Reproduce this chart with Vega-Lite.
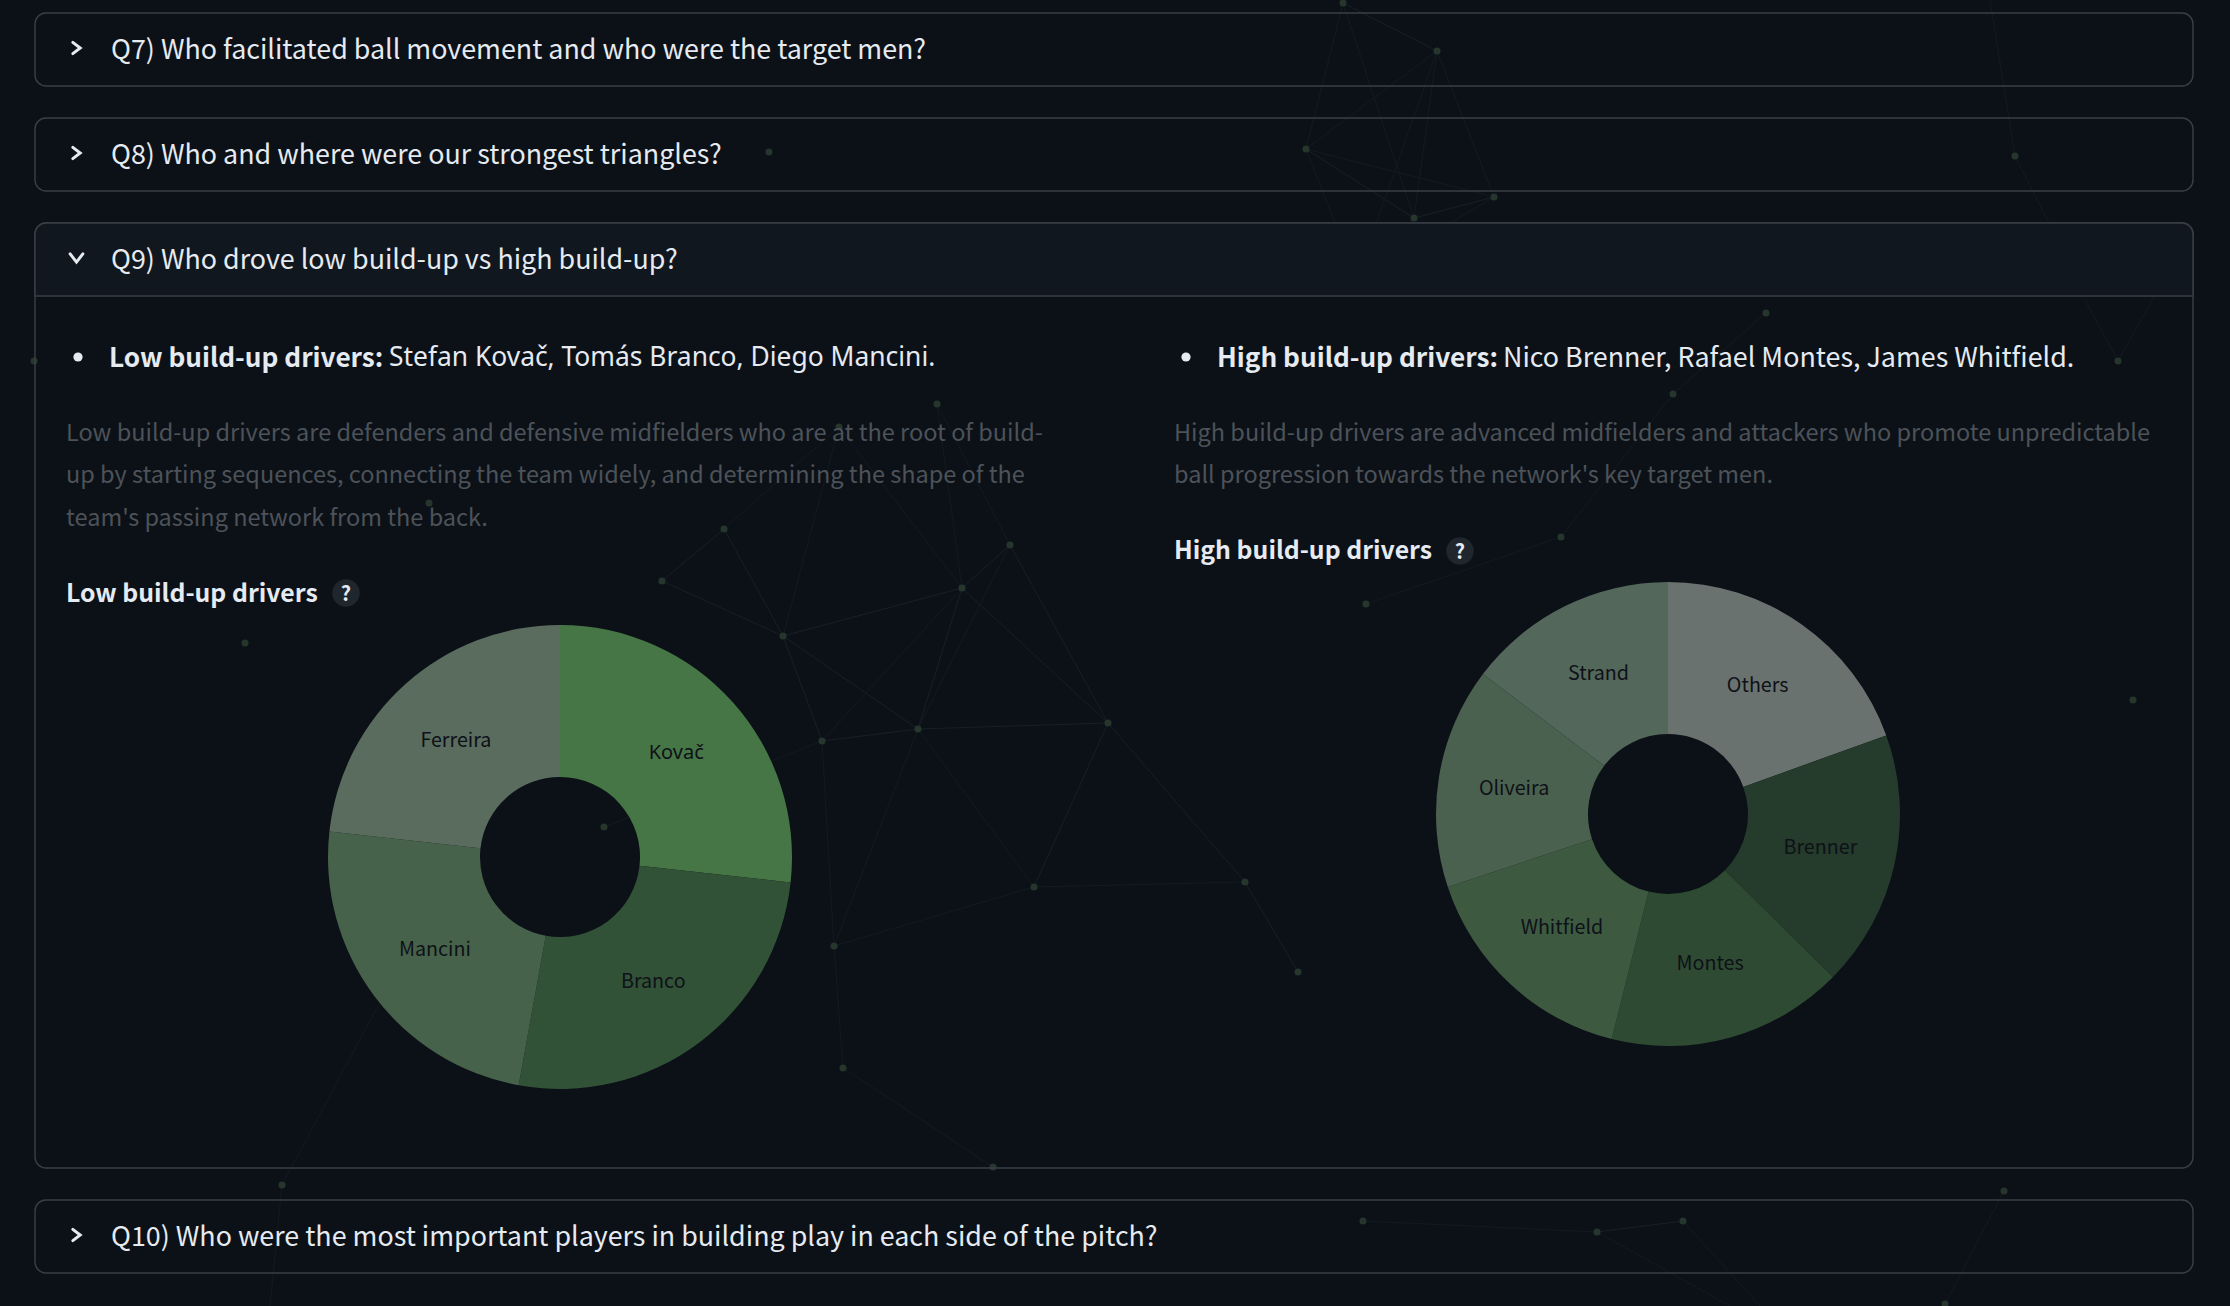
{
  "$schema": "https://vega.github.io/schema/vega-lite/v6.json",
  "width": 2230,
  "height": 1306,
  "padding": 0,
  "autosize": {"type": "none"},
  "background": "#0b1117",
  "config": {"view": {"stroke": null}, "text": {"font": "Noto Sans CJK SC"}, "scale": {"pointPadding": 0}},
  "datasets": {
    "edges": [
      {"x":1343,"y":3,"x2":1437,"y2":51,"w":"strong"},{"x":1343,"y":3,"x2":1306,"y2":149,"w":"weak"},{"x":1343,"y":3,"x2":1414,"y2":218,"w":"weak"},
      {"x":1437,"y":51,"x2":1306,"y2":149,"w":"weak"},{"x":1306,"y":149,"x2":1494,"y2":197,"w":"weak"},{"x":1306,"y":149,"x2":1414,"y2":218,"w":"strong"},
      {"x":1306,"y":149,"x2":1357,"y2":278,"w":"weak"},{"x":1437,"y":51,"x2":1494,"y2":197,"w":"weak"},{"x":1437,"y":51,"x2":1414,"y2":218,"w":"weak"},
      {"x":1494,"y":197,"x2":1414,"y2":218,"w":"strong"},{"x":1414,"y":218,"x2":1357,"y2":278,"w":"weak"},{"x":1494,"y":197,"x2":1357,"y2":278,"w":"weak"},
      {"x":1437,"y":51,"x2":1357,"y2":278,"w":"weak"},
      {"x":662,"y":581,"x2":724,"y2":529,"w":"strong"},{"x":724,"y":529,"x2":783,"y2":636,"w":"strong"},{"x":662,"y":581,"x2":783,"y2":636,"w":"strong"},
      {"x":783,"y":636,"x2":962,"y2":588,"w":"strong"},{"x":783,"y":636,"x2":918,"y2":729,"w":"strong"},{"x":783,"y":636,"x2":822,"y2":741,"w":"strong"},
      {"x":822,"y":741,"x2":918,"y2":729,"w":"strong"},{"x":918,"y":729,"x2":1108,"y2":723,"w":"strong"},{"x":918,"y":729,"x2":962,"y2":588,"w":"strong"},
      {"x":962,"y":588,"x2":1010,"y2":545,"w":"strong"},{"x":962,"y":588,"x2":1108,"y2":723,"w":"strong"},{"x":1010,"y":545,"x2":1108,"y2":723,"w":"strong"},
      {"x":1108,"y":723,"x2":1034,"y2":887,"w":"strong"},{"x":1108,"y":723,"x2":1245,"y2":882,"w":"strong"},{"x":918,"y":729,"x2":1034,"y2":887,"w":"weak"},
      {"x":1034,"y":887,"x2":1245,"y2":882,"w":"weak"},{"x":1245,"y":882,"x2":1298,"y2":972,"w":"strong"},{"x":1034,"y":887,"x2":834,"y2":946,"w":"weak"},
      {"x":918,"y":729,"x2":834,"y2":946,"w":"weak"},{"x":822,"y":741,"x2":834,"y2":946,"w":"weak"},{"x":834,"y":946,"x2":843,"y2":1068,"w":"weak"},
      {"x":822,"y":741,"x2":962,"y2":588,"w":"weak"},{"x":918,"y":729,"x2":1010,"y2":545,"w":"weak"},{"x":724,"y":529,"x2":839,"y2":427,"w":"weak"},
      {"x":783,"y":636,"x2":839,"y2":427,"w":"weak"},{"x":962,"y":588,"x2":839,"y2":427,"w":"weak"},{"x":962,"y":588,"x2":937,"y2":404,"w":"weak"},
      {"x":1010,"y":545,"x2":937,"y2":404,"w":"weak"},{"x":604,"y":827,"x2":822,"y2":741,"w":"weak"},{"x":843,"y":1068,"x2":993,"y2":1167,"w":"weak"},
      {"x":388,"y":987,"x2":282,"y2":1185,"w":"weak"},{"x":282,"y":1185,"x2":270,"y2":1306,"w":"weak"},
      {"x":1766,"y":313,"x2":1673,"y2":394,"w":"weak"},{"x":1673,"y":394,"x2":1561,"y2":537,"w":"weak"},{"x":1561,"y":537,"x2":1366,"y2":604,"w":"weak"},
      {"x":2015,"y":156,"x2":2068,"y2":261,"w":"weak"},{"x":2015,"y":156,"x2":1990,"y2":0,"w":"weak"},{"x":2118,"y":361,"x2":2180,"y2":250,"w":"weak"},{"x":2118,"y":361,"x2":2085,"y2":300,"w":"weak"},
      {"x":1363,"y":1221,"x2":1597,"y2":1232,"w":"weak"},{"x":1597,"y":1232,"x2":1683,"y2":1221,"w":"strong"},{"x":1683,"y":1221,"x2":1760,"y2":1306,"w":"weak"},
      {"x":1597,"y":1232,"x2":1730,"y2":1306,"w":"weak"},{"x":2004,"y":1191,"x2":1945,"y2":1304,"w":"weak"}
    ],
    "nodes": [
      {"x":1343,"y":3},{"x":1437,"y":51},{"x":1306,"y":149},{"x":1494,"y":197},{"x":1414,"y":218},{"x":1357,"y":278},
      {"x":724,"y":529},{"x":662,"y":581},{"x":1010,"y":545},{"x":962,"y":588},{"x":783,"y":636},{"x":822,"y":741},{"x":918,"y":729},{"x":1108,"y":723},
      {"x":1034,"y":887},{"x":1245,"y":882},{"x":1298,"y":972},{"x":834,"y":946},{"x":843,"y":1068},{"x":1366,"y":604},{"x":604,"y":827},{"x":388,"y":987},
      {"x":325,"y":278},{"x":34,"y":361},{"x":937,"y":404},{"x":429,"y":503},{"x":839,"y":427},{"x":245,"y":643},{"x":2015,"y":156},{"x":1766,"y":313},
      {"x":2118,"y":361},{"x":1673,"y":394},{"x":1561,"y":537},{"x":769,"y":152},{"x":2133,"y":700},{"x":993,"y":1167},{"x":282,"y":1185},{"x":1363,"y":1221},
      {"x":1597,"y":1232},{"x":1683,"y":1221},{"x":2004,"y":1191},{"x":1945,"y":1304}
    ],
    "panels": [
      {"panel":"Q7","span":"all","label":"Q7) Who facilitated ball movement and who were the target men?"},
      {"panel":"Q8","span":"all","label":"Q8) Who and where were our strongest triangles?"},
      {"panel":"Q9","span":"all","label":"Q9) Who drove low build-up vs high build-up?"},
      {"panel":"Q10","span":"all","label":"Q10) Who were the most important players in building play in each side of the pitch?"}
    ],
    "bullets": [
      {"side":"Low","lead":"Low build-up drivers:","names":"Stefan Kovač, Tomás Branco, Diego Mancini."},
      {"side":"High","lead":"High build-up drivers:","names":"Nico Brenner, Rafael Montes, James Whitfield."}
    ],
    "notes": [
      {"side":"Low","line":1,"text":"Low build-up drivers are defenders and defensive midfielders who are at the root of build-"},
      {"side":"Low","line":2,"text":"up by starting sequences, connecting the team widely, and determining the shape of the"},
      {"side":"Low","line":3,"text":"team's passing network from the back."},
      {"side":"High","line":1,"text":"High build-up drivers are advanced midfielders and attackers who promote unpredictable"},
      {"side":"High","line":2,"text":"ball progression towards the network's key target men."}
    ],
    "headings": [
      {"side":"Low","title":"Low build-up drivers","help":"?"},
      {"side":"High","title":"High build-up drivers","help":"?"}
    ],
    "low": [
      {"side":"Low","player":"Kovač","share":26.75,"rank":1},
      {"side":"Low","player":"Branco","share":26.1,"rank":2},
      {"side":"Low","player":"Mancini","share":23.9,"rank":3},
      {"side":"Low","player":"Ferreira","share":23.25,"rank":4}
    ],
    "high": [
      {"side":"High","player":"Others","share":19.5,"rank":1},
      {"side":"High","player":"Brenner","share":17.9,"rank":2},
      {"side":"High","player":"Montes","share":16.5,"rank":3},
      {"side":"High","player":"Whitfield","share":16.0,"rank":4},
      {"side":"High","player":"Oliveira","share":15.4,"rank":5},
      {"side":"High","player":"Strand","share":14.7,"rank":6}
    ]
  },
  "resolve": {"scale": {"x": "independent", "y": "independent", "theta": "independent", "color": "independent"}},
  "layer": [
    {
      "data": {"name": "edges"},
      "mark": {"type": "rule", "strokeWidth": 1},
      "encoding": {
        "x": {"field": "x", "type": "quantitative", "axis": null, "scale": {"domain": [0, 2230], "range": [0, 2230], "nice": false, "zero": false}},
        "y": {"field": "y", "type": "quantitative", "axis": null, "scale": {"domain": [0, 1306], "range": [0, 1306], "nice": false, "zero": false}},
        "x2": {"field": "x2"},
        "y2": {"field": "y2"},
        "color": {"field": "w", "type": "nominal", "legend": null, "scale": {"domain": ["strong", "weak"], "range": ["#181f25", "#141a20"]}}
      }
    },
    {
      "data": {"name": "nodes"},
      "mark": {"type": "point", "shape": "circle", "filled": true, "size": 50, "color": "#26362c", "opacity": 1},
      "encoding": {
        "x": {"field": "x", "type": "quantitative", "axis": null, "scale": {"domain": [0, 2230], "range": [0, 2230], "nice": false, "zero": false}},
        "y": {"field": "y", "type": "quantitative", "axis": null, "scale": {"domain": [0, 1306], "range": [0, 1306], "nice": false, "zero": false}}
      }
    },
    {
      "data": {"name": "panels"},
      "transform": [{"filter": "datum.panel === 'Q9'"}],
      "mark": {"type": "rect", "fill": "transparent", "stroke": "#3a3f47", "strokeWidth": 1.4, "cornerRadius": 11},
      "encoding": {
        "x": {"field": "span", "type": "nominal", "axis": null, "scale": {"type": "band", "domain": ["all"], "range": [35, 2193], "paddingInner": 0, "paddingOuter": 0}},
        "y": {"field": "panel", "type": "nominal", "axis": null, "scale": {"type": "band", "domain": ["Q9"], "range": [223, 1168], "paddingInner": 0, "paddingOuter": 0}}
      }
    },
    {
      "data": {"name": "panels"},
      "transform": [{"filter": "datum.panel === 'Q9'"}],
      "mark": {"type": "rect", "fill": "#10171e", "stroke": "#3a3f47", "strokeWidth": 1.4, "cornerRadiusTopLeft": 11, "cornerRadiusTopRight": 11},
      "encoding": {
        "x": {"field": "span", "type": "nominal", "axis": null, "scale": {"type": "band", "domain": ["all"], "range": [35, 2193], "paddingInner": 0, "paddingOuter": 0}},
        "y": {"field": "panel", "type": "nominal", "axis": null, "scale": {"type": "band", "domain": ["Q9"], "range": [223, 296], "paddingInner": 0, "paddingOuter": 0}}
      }
    },
    {
      "data": {"name": "panels"},
      "transform": [{"filter": "datum.panel !== 'Q9' && datum.panel !== 'Q10'"}],
      "mark": {"type": "rect", "fill": "transparent", "stroke": "#3a3f47", "strokeWidth": 1.4, "cornerRadius": 11},
      "encoding": {
        "x": {"field": "span", "type": "nominal", "axis": null, "scale": {"type": "band", "domain": ["all"], "range": [35, 2193], "paddingInner": 0, "paddingOuter": 0}},
        "y": {"field": "panel", "type": "nominal", "axis": null, "scale": {"type": "band", "domain": ["Q7", "Q8"], "range": [13, 191], "paddingInner": 0.3048, "paddingOuter": 0}}
      }
    },
    {
      "data": {"name": "panels"},
      "transform": [{"filter": "datum.panel === 'Q10'"}],
      "mark": {"type": "rect", "fill": "transparent", "stroke": "#3a3f47", "strokeWidth": 1.4, "cornerRadius": 11},
      "encoding": {
        "x": {"field": "span", "type": "nominal", "axis": null, "scale": {"type": "band", "domain": ["all"], "range": [35, 2193], "paddingInner": 0, "paddingOuter": 0}},
        "y": {"field": "panel", "type": "nominal", "axis": null, "scale": {"type": "band", "domain": ["Q10"], "range": [1200, 1273], "paddingInner": 0, "paddingOuter": 0}}
      }
    },
    {
      "data": {"name": "panels"},
      "transform": [{"filter": "datum.panel !== 'Q10'"}],
      "mark": {"type": "text", "align": "left", "baseline": "middle", "fontSize": 26.85, "color": "#e6eaf1"},
      "encoding": {
        "x": {"field": "span", "type": "nominal", "axis": null, "scale": {"type": "point", "domain": ["all"], "range": [111, 111]}},
        "y": {"field": "panel", "type": "nominal", "axis": null, "scale": {"type": "point", "domain": ["Q7", "Q8", "Q9"], "range": [51, 261]}},
        "text": {"field": "label"}
      }
    },
    {
      "data": {"name": "panels"},
      "transform": [{"filter": "datum.panel === 'Q10'"}],
      "mark": {"type": "text", "align": "left", "baseline": "middle", "fontSize": 26.85, "color": "#e6eaf1"},
      "encoding": {
        "x": {"field": "span", "type": "nominal", "axis": null, "scale": {"type": "point", "domain": ["all"], "range": [111, 111]}},
        "y": {"field": "panel", "type": "nominal", "axis": null, "scale": {"type": "point", "domain": ["Q10"], "range": [1238, 1238]}},
        "text": {"field": "label"}
      }
    },
    {
      "data": {"name": "panels"},
      "transform": [{"filter": "datum.panel === 'Q7' || datum.panel === 'Q8'"}],
      "mark": {"type": "point", "shape": "M-0.33,-0.5L0.33,0L-0.33,0.5", "size": 500, "filled": false, "stroke": "#e6eaf1", "strokeWidth": 3, "strokeCap": "round", "opacity": 1},
      "encoding": {
        "x": {"field": "span", "type": "nominal", "axis": null, "scale": {"type": "point", "domain": ["all"], "range": [76.5, 76.5]}},
        "y": {"field": "panel", "type": "nominal", "axis": null, "scale": {"type": "point", "domain": ["Q7", "Q8"], "range": [48, 153]}}
      }
    },
    {
      "data": {"name": "panels"},
      "transform": [{"filter": "datum.panel === 'Q10'"}],
      "mark": {"type": "point", "shape": "M-0.33,-0.5L0.33,0L-0.33,0.5", "size": 500, "filled": false, "stroke": "#e6eaf1", "strokeWidth": 3, "strokeCap": "round", "opacity": 1},
      "encoding": {
        "x": {"field": "span", "type": "nominal", "axis": null, "scale": {"type": "point", "domain": ["all"], "range": [76.5, 76.5]}},
        "y": {"field": "panel", "type": "nominal", "axis": null, "scale": {"type": "point", "domain": ["Q10"], "range": [1235, 1235]}}
      }
    },
    {
      "data": {"name": "panels"},
      "transform": [{"filter": "datum.panel === 'Q9'"}],
      "mark": {"type": "point", "shape": "M-0.5,-0.32L0,0.32L0.5,-0.32", "size": 650, "filled": false, "stroke": "#e6eaf1", "strokeWidth": 3, "strokeCap": "round", "opacity": 1},
      "encoding": {
        "x": {"field": "span", "type": "nominal", "axis": null, "scale": {"type": "point", "domain": ["all"], "range": [76.5, 76.5]}},
        "y": {"field": "panel", "type": "nominal", "axis": null, "scale": {"type": "point", "domain": ["Q9"], "range": [258, 258]}}
      }
    },
    {
      "data": {"name": "bullets"},
      "mark": {"type": "point", "shape": "circle", "filled": true, "size": 85, "color": "#e6eaf1", "opacity": 1},
      "encoding": {
        "x": {"field": "side", "type": "nominal", "axis": null, "scale": {"type": "point", "domain": ["Low", "High"], "range": [78, 1186]}},
        "y": {"field": "side", "type": "nominal", "axis": null, "scale": {"type": "point", "domain": ["Low", "High"], "range": [357, 357]}}
      }
    },
    {
      "data": {"name": "bullets"},
      "mark": {"type": "text", "align": "left", "baseline": "middle", "fontSize": 26.2, "fontWeight": 700, "color": "#e6eaf1"},
      "encoding": {
        "x": {"field": "side", "type": "nominal", "axis": null, "scale": {"type": "point", "domain": ["Low", "High"], "range": [109, 1217]}},
        "y": {"field": "side", "type": "nominal", "axis": null, "scale": {"type": "point", "domain": ["Low", "High"], "range": [359, 359]}},
        "text": {"field": "lead"}
      }
    },
    {
      "data": {"name": "bullets"},
      "transform": [{"filter": "datum.side === 'High'"}],
      "mark": {"type": "text", "align": "left", "baseline": "middle", "fontSize": 26.85, "color": "#e6eaf1"},
      "encoding": {
        "x": {"field": "side", "type": "nominal", "axis": null, "scale": {"type": "point", "domain": ["High"], "range": [1503, 1503]}},
        "y": {"field": "side", "type": "nominal", "axis": null, "scale": {"type": "point", "domain": ["High"], "range": [359, 359]}},
        "text": {"field": "names"}
      }
    },
    {
      "data": {"name": "bullets"},
      "transform": [{"filter": "datum.side === 'Low'"}],
      "mark": {"type": "text", "align": "left", "baseline": "middle", "font": "Noto Sans", "fontSize": 26.4, "color": "#e6eaf1"},
      "encoding": {
        "x": {"field": "side", "type": "nominal", "axis": null, "scale": {"type": "point", "domain": ["Low"], "range": [389, 389]}},
        "y": {"field": "side", "type": "nominal", "axis": null, "scale": {"type": "point", "domain": ["Low"], "range": [358, 358]}},
        "text": {"field": "names"}
      }
    },
    {
      "data": {"name": "notes"},
      "mark": {"type": "text", "align": "left", "baseline": "middle", "fontSize": 23.5, "color": "#4d5259"},
      "encoding": {
        "x": {"field": "side", "type": "nominal", "axis": null, "scale": {"type": "point", "domain": ["Low", "High"], "range": [66, 1174]}},
        "y": {"field": "line", "type": "ordinal", "axis": null, "scale": {"type": "point", "domain": [1, 2, 3], "range": [433.5, 518.5]}},
        "text": {"field": "text"}
      }
    },
    {
      "data": {"name": "headings"},
      "mark": {"type": "text", "align": "left", "baseline": "middle", "fontSize": 24.8, "fontWeight": 700, "color": "#e6eaf1"},
      "encoding": {
        "x": {"field": "side", "type": "nominal", "axis": null, "scale": {"type": "point", "domain": ["Low", "High"], "range": [66, 1174]}},
        "y": {"field": "side", "type": "nominal", "axis": null, "scale": {"type": "point", "domain": ["Low", "High"], "range": [595, 552]}},
        "text": {"field": "title"}
      }
    },
    {
      "data": {"name": "headings"},
      "mark": {"type": "point", "shape": "circle", "filled": true, "size": 755, "color": "#20262e", "opacity": 1},
      "encoding": {
        "x": {"field": "side", "type": "nominal", "axis": null, "scale": {"type": "point", "domain": ["Low", "High"], "range": [346, 1460]}},
        "y": {"field": "side", "type": "nominal", "axis": null, "scale": {"type": "point", "domain": ["Low", "High"], "range": [593, 551]}}
      }
    },
    {
      "data": {"name": "headings"},
      "mark": {"type": "text", "align": "center", "baseline": "middle", "fontSize": 20, "fontWeight": 700, "color": "#e6eaf1"},
      "encoding": {
        "x": {"field": "side", "type": "nominal", "axis": null, "scale": {"type": "point", "domain": ["Low", "High"], "range": [346, 1460]}},
        "y": {"field": "side", "type": "nominal", "axis": null, "scale": {"type": "point", "domain": ["Low", "High"], "range": [594.5, 552.5]}},
        "text": {"field": "help"}
      }
    },
    {
      "data": {"name": "low"},
      "mark": {"type": "arc", "outerRadius": 232, "innerRadius": 80},
      "encoding": {
        "x": {"field": "side", "type": "nominal", "axis": null, "scale": {"type": "point", "domain": ["Low"], "range": [560, 560]}},
        "y": {"field": "side", "type": "nominal", "axis": null, "scale": {"type": "point", "domain": ["Low"], "range": [857, 857]}},
        "theta": {"field": "share", "type": "quantitative", "stack": true},
        "order": {"field": "rank", "type": "quantitative"},
        "color": {"field": "player", "type": "nominal", "legend": null, "scale": {"domain": ["Kovač", "Branco", "Mancini", "Ferreira"], "range": ["#467645", "#325237", "#47624a", "#5a6c5e"]}}
      }
    },
    {
      "data": {"name": "low"},
      "mark": {"type": "text", "radius": 156, "fontSize": 19.7, "color": "#0e1117", "align": "center", "baseline": "middle"},
      "encoding": {
        "x": {"field": "side", "type": "nominal", "axis": null, "scale": {"type": "point", "domain": ["Low"], "range": [560, 560]}},
        "y": {"field": "side", "type": "nominal", "axis": null, "scale": {"type": "point", "domain": ["Low"], "range": [857, 857]}},
        "theta": {"field": "share", "type": "quantitative", "stack": true},
        "order": {"field": "rank", "type": "quantitative"},
        "text": {"field": "player", "condition": {"test": "datum.player === 'Kovač'", "value": ""}}
      }
    },
    {
      "data": {"name": "low"},
      "mark": {"type": "text", "radius": 156, "font": "Noto Sans", "fontSize": 20, "color": "#0e1117", "align": "center", "baseline": "middle"},
      "encoding": {
        "x": {"field": "side", "type": "nominal", "axis": null, "scale": {"type": "point", "domain": ["Low"], "range": [560, 560]}},
        "y": {"field": "side", "type": "nominal", "axis": null, "scale": {"type": "point", "domain": ["Low"], "range": [857, 857]}},
        "theta": {"field": "share", "type": "quantitative", "stack": true},
        "order": {"field": "rank", "type": "quantitative"},
        "text": {"field": "player", "condition": {"test": "datum.player !== 'Kovač'", "value": ""}}
      }
    },
    {
      "data": {"name": "high"},
      "mark": {"type": "arc", "outerRadius": 232, "innerRadius": 80},
      "encoding": {
        "x": {"field": "side", "type": "nominal", "axis": null, "scale": {"type": "point", "domain": ["High"], "range": [1668, 1668]}},
        "y": {"field": "side", "type": "nominal", "axis": null, "scale": {"type": "point", "domain": ["High"], "range": [814, 814]}},
        "theta": {"field": "share", "type": "quantitative", "stack": true},
        "order": {"field": "rank", "type": "quantitative"},
        "color": {"field": "player", "type": "nominal", "legend": null, "scale": {"domain": ["Others", "Brenner", "Montes", "Whitfield", "Oliveira", "Strand"], "range": ["#6a7270", "#253b2b", "#2e4a32", "#3d5a41", "#4b614f", "#53675a"]}}
      }
    },
    {
      "data": {"name": "high"},
      "mark": {"type": "text", "radius": 156, "fontSize": 19.7, "color": "#0e1117", "align": "center", "baseline": "middle"},
      "encoding": {
        "x": {"field": "side", "type": "nominal", "axis": null, "scale": {"type": "point", "domain": ["High"], "range": [1668, 1668]}},
        "y": {"field": "side", "type": "nominal", "axis": null, "scale": {"type": "point", "domain": ["High"], "range": [814, 814]}},
        "theta": {"field": "share", "type": "quantitative", "stack": true},
        "order": {"field": "rank", "type": "quantitative"},
        "text": {"field": "player"}
      }
    }
  ]
}
